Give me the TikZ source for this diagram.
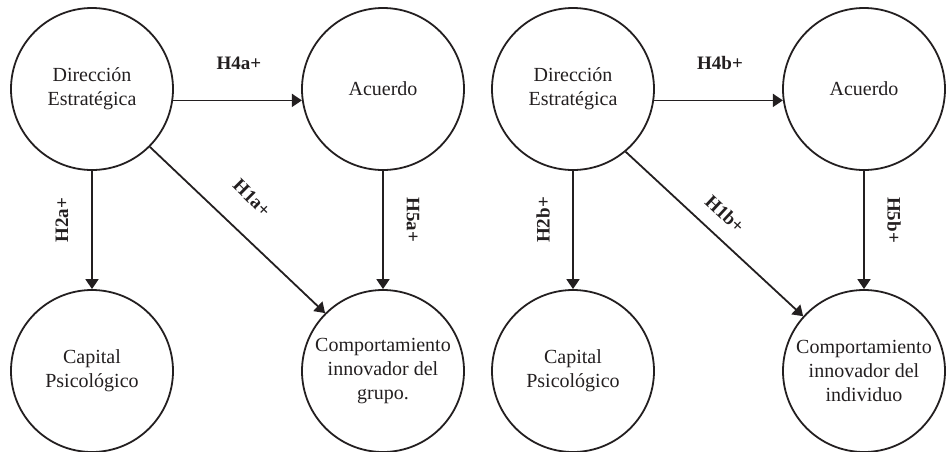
\documentclass[tikz,border=0pt]{standalone}
\usepackage{fontspec}
\setmainfont{Liberation Serif}
\usepackage{xcolor}
\usepackage{tikz}
\usetikzlibrary{arrows.meta, positioning, calc}

\definecolor{ink}{RGB}{35,31,32}

\begin{document}
\begin{tikzpicture}[x=1pt, y=-1pt,
    var/.style={circle, draw=ink, line width=1.8pt, minimum size=162pt, inner sep=0pt,
        align=center, text=ink, font=\fontsize{20}{24}\selectfont},
    arr/.style={draw=ink, line width=1.8pt, -{Triangle[length=10pt, width=13pt]}},
    hyp/.style={text=ink, inner sep=0pt, font=\fontsize{19}{22}\selectfont\bfseries}]
\useasboundingbox (0,0) rectangle (946,451);

% Two models: group (a) and individual (b)
\foreach \dx/\s/\who/\from/\to/\rot/\hx/\hy in {0/a/{grupo.}/-45/135/-45/252/198, 481/b/individuo/-50/138/-43/244/214} {
    % Variables
    \node[var] (de\s) at (92+\dx, 89) {Dirección\\Estratégica};
    \node[var] (acu\s) at (383+\dx, 89) {Acuerdo};
    \node[var] (cap\s) at (92+\dx, 371) {Capital\\Psicológico};
    \node[var] (comp\s) at (383+\dx, 371) {Comportamiento\\innovador del\\\who};

    % Paths
    \draw[arr] (de\s.-8) -- (acu\s.188);
    \draw[arr] (de\s.south) -- (cap\s.north);
    \draw[arr] (acu\s.south) -- (comp\s.north);
    \draw[arr] (de\s.\from) -- (comp\s.\to);

    % Hypotheses
    \node[hyp] (h4\s) at (239+\dx, 63) {H4\s+};
    \node[hyp, rotate=90] (h2\s) at (62+\dx, 220) {H2\s+};
    \node[hyp, rotate=-90] (h5\s) at (413+\dx, 220) {H5\s+};
    \node[hyp, rotate=\rot] (h1\s) at (\hx+\dx, \hy) {H1\s+};
}
\end{tikzpicture}
\end{document}
